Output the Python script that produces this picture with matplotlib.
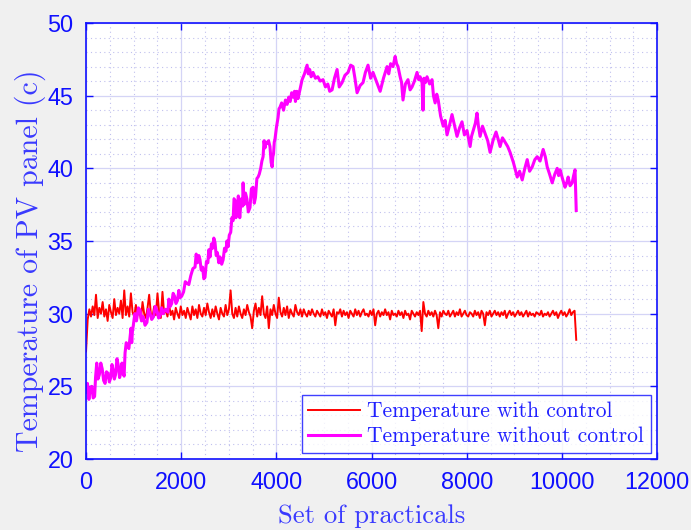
"""
plot.py

Temperature of a PV panel with and without control, recreated from a
MATLAB style figure.
"""

import numpy as np
import matplotlib
matplotlib.use("Agg")
import matplotlib.pyplot as plt
from matplotlib.ticker import MultipleLocator

# temperature with control: samples spread evenly over 0..10300
RED_END = 10300
red_y = [
    27.4, 29.6, 30.3, 29.8, 30.5, 29.9, 31.3, 29.7, 30.4, 30.0,
    30.8, 29.8, 30.3, 29.5, 30.6, 30.1, 29.7, 31.0, 29.9, 30.4,
    30.0, 30.9, 29.7, 31.6, 29.9, 30.5, 29.8, 31.4, 30.1, 29.8,
    30.6, 29.9, 30.3, 29.6, 30.8, 30.0, 29.7, 30.4, 31.3, 30.0,
    29.8, 30.5, 29.9, 31.4, 30.1, 29.7, 31.5, 30.0, 30.3, 29.8,
    30.6, 29.9, 30.2, 29.6, 30.4, 30.0, 29.7, 30.5, 29.9, 30.2,
    29.7, 30.4, 30.0, 29.6, 30.5, 29.9, 30.3, 29.7, 30.6, 30.0,
    29.8, 30.4, 29.9, 30.7, 30.1, 29.7, 30.3, 29.8, 30.5, 30.0,
    29.6, 30.4, 30.0, 29.8, 30.6, 29.9, 30.3, 31.6, 30.0, 29.7,
    30.4, 29.8, 30.5, 30.0, 29.7, 30.3, 29.9, 30.6, 30.1, 29.8,
    29.0, 30.2, 30.7, 29.8, 30.4, 29.9, 31.2, 30.0, 29.7, 30.5,
    29.0, 30.3, 29.9, 30.6, 30.0, 29.7, 31.1, 30.1, 29.8, 30.4,
    29.9, 30.5, 29.7, 30.3, 30.0, 29.8, 30.6, 30.1, 29.9, 30.3,
    29.8, 30.3, 30.0, 29.8, 30.2, 29.9, 30.3, 30.0, 29.8, 30.2,
    30.0, 29.8, 30.3, 29.9, 30.1, 29.7, 30.2, 30.0, 29.8, 30.3,
    29.2, 30.1, 30.0, 30.3, 29.8, 30.2, 29.9, 30.1, 29.7, 30.2,
    30.0, 29.8, 30.3, 29.9, 30.2, 29.8, 30.1, 30.3, 29.9, 30.0,
    29.8, 30.2, 29.9, 30.3, 29.2, 30.0, 30.2, 29.8, 30.1, 29.9,
    30.3, 29.9, 30.1, 29.6, 30.2, 29.9, 30.0, 29.8, 30.2, 29.9,
    30.1, 29.7, 30.2, 29.9, 30.0, 29.6, 30.2, 30.0, 29.8, 30.1,
    29.9, 30.2, 28.8, 30.8, 30.0, 29.8, 30.2, 29.9, 30.1, 29.8,
    30.2, 29.9, 29.0, 30.1, 29.8, 30.2, 30.0, 29.9, 30.2, 29.8,
    30.0, 30.2, 29.8, 30.1, 29.9, 30.3, 29.8, 30.0, 30.2, 29.9,
    29.8, 30.1, 30.0, 29.8, 30.2, 29.9, 30.1, 29.7, 30.2, 30.0,
    29.2, 30.1, 29.9, 30.2, 29.8, 30.0, 30.2, 29.9, 30.1, 29.8,
    30.1, 29.9, 30.2, 29.7, 30.0, 30.2, 29.9, 30.1, 29.8, 30.0,
    30.2, 29.9, 30.1, 29.8, 30.0, 30.2, 29.8, 30.1, 29.9, 30.0,
    29.8, 30.1, 30.0, 29.9, 30.2, 29.8, 30.0, 29.9, 30.1, 29.8,
    30.0, 30.2, 29.9, 30.1, 29.7, 30.0, 30.2, 29.9, 30.1, 29.8,
    30.0, 30.3, 29.9, 30.1, 30.2, 28.2,
]

# temperature without control
mag_x = [
    0, 30, 60, 90, 120, 150, 180, 200, 225, 250, 280, 310, 340, 370, 400,
    430, 460, 490, 520, 545, 570, 595, 620, 650, 680, 705, 730, 755, 780,
    800, 820, 845, 870, 900, 925, 945, 960, 975, 990, 1025, 1060, 1100,
    1135, 1165, 1200, 1240, 1280, 1310, 1345, 1380, 1420, 1455, 1490, 1525,
    1560, 1590, 1620, 1670, 1720, 1740, 1770, 1800, 1830, 1860, 1890, 1920,
    1950, 1975, 2010, 2050, 2085, 2120, 2160, 2200, 2245, 2290, 2315, 2340,
    2370, 2395, 2420, 2450, 2475, 2500, 2530, 2560, 2580, 2605, 2635, 2660,
    2685, 2710, 2735, 2760, 2790, 2815, 2850, 2880, 2910, 2940, 2960, 2985,
    3010, 3040, 3065, 3090, 3110, 3130, 3150, 3175, 3200, 3230, 3260, 3290,
    3300, 3320, 3350, 3380, 3410, 3445, 3475, 3510, 3535, 3560, 3590, 3615,
    3640, 3670, 3695, 3720, 3740, 3760, 3780, 3805, 3835, 3865, 3890, 3910,
    3925, 3940, 3955, 3970, 4000, 4035, 4055, 4075, 4110, 4150, 4190, 4225,
    4260, 4290, 4320, 4350, 4380, 4400, 4430, 4455, 4500, 4540, 4590, 4645,
    4670, 4700, 4730, 4770, 4820, 4870, 4920, 4980, 5030, 5080, 5120, 5170,
    5220, 5275, 5320, 5380, 5440, 5505, 5560, 5610, 5650, 5695, 5760, 5820,
    5870, 5925, 5980, 6030, 6100, 6180, 6250, 6325, 6360, 6400, 6450, 6495,
    6525, 6555, 6600, 6630, 6660, 6710, 6765, 6810, 6850, 6900, 6955, 6990,
    7020, 7060, 7080, 7100, 7130, 7165, 7220, 7270, 7300, 7335, 7370, 7400,
    7450, 7505, 7545, 7585, 7640, 7690, 7740, 7795, 7850, 7900, 7950, 8005,
    8040, 8070, 8100, 8135, 8180, 8215, 8245, 8280, 8330, 8385, 8440, 8490,
    8550, 8615, 8660, 8700, 8750, 8805, 8860, 8910, 8980, 9060, 9110, 9165,
    9220, 9270, 9320, 9375, 9430, 9480, 9540, 9605, 9650, 9690, 9740, 9795,
    9850, 9900, 9930, 9960, 10010, 10065, 10100, 10130, 10170, 10215, 10245,
    10275, 10285, 10300,
]
mag_y = [
    24.6, 25.2, 24.1, 24.9, 25.0, 24.2, 24.3, 25.6, 26.6, 25.5, 25.8, 26.6,
    26.2, 25.4, 25.2, 26.0, 25.9, 25.3, 25.6, 26.5, 26.1, 25.5, 25.8, 26.9,
    26.4, 25.6, 25.9, 26.6, 26.0, 25.7, 27.3, 28.0, 27.8, 27.6, 28.4, 29.0,
    28.0, 28.8, 29.1, 30.0, 29.5, 30.4, 30.25, 29.5, 29.8, 29.2, 29.4, 30.3,
    30.0, 29.6, 29.8, 30.5, 30.2, 29.7, 29.9, 30.4, 30.0, 30.3, 30.1, 31.0,
    30.5, 30.7, 31.4, 31.2, 30.7, 30.9, 31.6, 31.1, 31.2, 31.5, 32.2, 32.1,
    32.0, 32.6, 33.1, 33.2, 34.1, 33.5, 34.0, 33.7, 33.0, 33.2, 32.4, 32.5,
    33.6, 33.5, 34.4, 33.9, 34.8, 34.5, 35.2, 34.9, 34.0, 34.2, 33.5, 33.9,
    33.4, 33.7, 34.5, 34.3, 35.0, 34.6, 35.4, 35.6, 36.6, 36.4, 37.9, 37.8,
    36.6, 37.0, 38.1, 36.6, 37.9, 37.4, 39.0, 37.5, 38.3, 37.9, 37.0, 37.3,
    38.6, 38.7, 37.6, 38.0, 39.3, 39.4, 39.6, 40.0, 40.5, 40.8, 41.9, 41.4,
    41.8, 41.7, 41.9, 41.5, 40.4, 40.1, 40.8, 41.0, 41.8, 42.0, 42.8, 43.5,
    44.1, 44.2, 44.5, 44.0, 44.7, 44.4, 44.9, 44.6, 45.2, 44.9, 45.3, 44.6,
    45.3, 44.8, 45.5, 46.1, 46.5, 47.1, 46.5, 46.8, 46.3, 46.6, 46.2, 46.3,
    46.0, 46.1, 45.6, 45.8, 45.3, 45.4, 46.2, 46.8, 45.6, 45.9, 46.4, 46.6,
    47.1, 47.0, 46.2, 45.2, 45.7, 45.9, 46.6, 47.1, 46.2, 46.6, 46.0, 45.3,
    46.2, 47.0, 46.5, 47.2, 47.0, 47.7, 47.2, 47.0, 46.3, 45.9, 44.7, 45.8,
    46.1, 45.4, 45.6, 46.0, 46.6, 46.1, 46.3, 45.9, 44.0, 46.2, 45.9, 46.3,
    45.8, 46.1, 45.0, 44.5, 45.1, 44.7, 43.6, 42.9, 43.3, 42.3, 43.0, 43.7,
    43.0, 42.2, 42.8, 43.2, 42.3, 42.6, 42.0, 41.5, 42.2, 42.6, 43.1, 43.8,
    42.9, 42.2, 42.9, 42.4, 41.9, 41.1, 41.9, 42.5, 42.0, 41.5, 42.1, 41.8,
    41.5, 41.1, 40.4, 39.4, 39.8, 39.2, 40.0, 40.6, 39.8, 40.1, 40.6, 40.8,
    40.5, 41.3, 40.8, 40.1, 39.6, 39.0, 39.6, 40.0, 39.5, 39.9, 39.3, 38.7,
    39.0, 39.4, 38.8, 39.0, 39.5, 39.9, 38.8, 37.1,
]

LABELS = ["Temperature with control", "Temperature without control"]
XTICKS = [0, 2000, 4000, 6000, 8000, 10000, 12000]
YTICKS = [20, 25, 30, 35, 40, 45, 50]

BLUE = "#1010ff"
SERIF = "cmr10"

fig = plt.figure(figsize=(6.91, 5.30), dpi=100, facecolor="#f0f0f0")
ax = fig.add_axes([0.1245, 0.134, 0.8265, 0.8226])

red_x = np.linspace(0, RED_END, len(red_y))
ax.plot(red_x, red_y, color="#ff0000", lw=1.4, label=LABELS[0])
ax.plot(mag_x, mag_y, color="#ff00ff", lw=2.2, label=LABELS[1])

ax.set_xlim(0, 12000)
ax.set_ylim(20, 50)
ax.set_xticks(XTICKS)
ax.set_yticks(YTICKS)
ax.xaxis.set_minor_locator(MultipleLocator(500))
ax.yaxis.set_minor_locator(MultipleLocator(1))

ax.grid(which="major", color="#d4d4f6", lw=0.9, ls="-")
ax.grid(which="minor", color="#c0c0ee", lw=0.8, ls=(0, (1, 3)))
ax.set_axisbelow(True)

ax.tick_params(which="major", direction="in", length=5, width=1,
               colors=BLUE, top=True, right=True, labelsize=16.8, pad=9)
ax.tick_params(which="minor", length=0)
for lab in ax.get_xticklabels() + ax.get_yticklabels():
    lab.set_fontfamily("Liberation Sans")
for sp in ax.spines.values():
    sp.set_color(BLUE)
    sp.set_linewidth(1.2)

ax.set_xlabel("Set of practicals", family=SERIF, fontsize=19.2,
              color="#3a3aff")
ax.set_ylabel("Temperature of PV panel (c)", family=SERIF, fontsize=21.5,
              color="#3a3aff")
ax.xaxis.set_label_coords(0.5, -0.105)
ax.yaxis.set_label_coords(-0.07, 0.454)

leg = ax.legend(loc="lower right", prop={"family": SERIF, "size": 15.5},
                frameon=True, fancybox=False, handlelength=2.4,
                handletextpad=0.35, borderaxespad=0.3, labelspacing=0.25,
                borderpad=0.3)
leg.get_frame().set_edgecolor(BLUE)
leg.get_frame().set_linewidth(1.0)
for t in leg.get_texts():
    t.set_color("#2020ff")

fig.savefig("out.png", dpi=100, facecolor=fig.get_facecolor())
